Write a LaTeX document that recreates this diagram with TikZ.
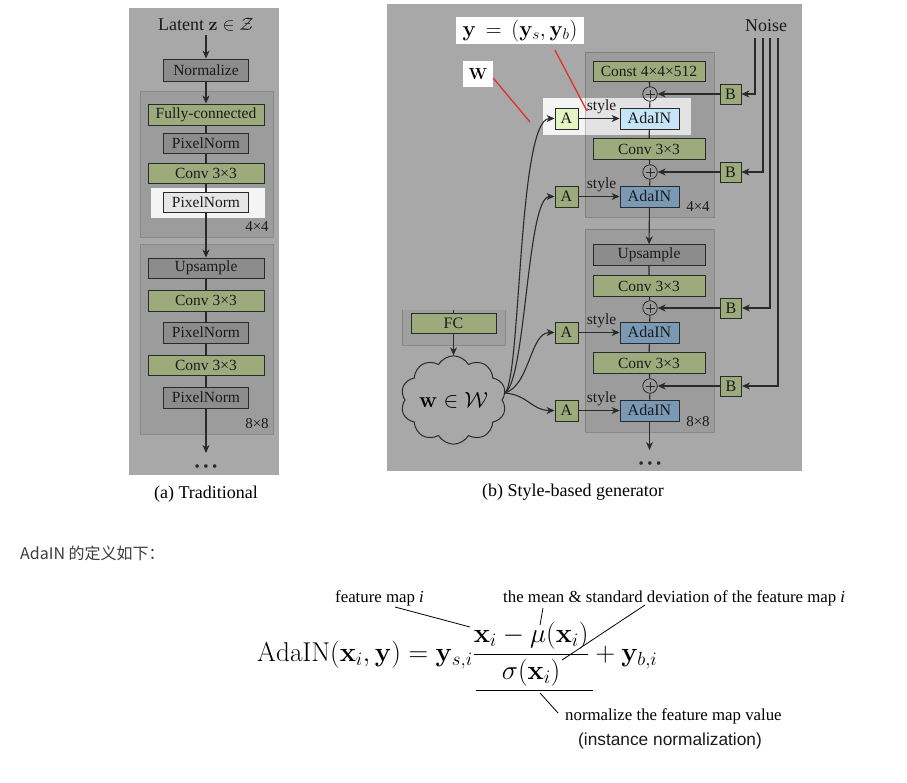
\RequirePackage{fix-cm}
\documentclass[tikz,border=0pt]{standalone}
\usepackage[no-math]{fontspec}
\setmainfont{Liberation Serif}
\newfontfamily\cjkfont{Noto Sans CJK SC}
\newfontfamily\arialfont{Liberation Sans}
\usetikzlibrary{arrows.meta,shapes.symbols,calc}
\newcommand\fsz[1]{\fontsize{#1}{#1}\selectfont}
\definecolor{panelc}{HTML}{A8A8A8}
\definecolor{framec}{HTML}{9C9C9C}
\definecolor{frameb}{HTML}{8A8A8A}
\definecolor{grnc}{HTML}{9DAA7C}
\definecolor{drkc}{HTML}{8C8C8C}
\definecolor{boxl}{HTML}{2A2A2A}
\definecolor{adal}{HTML}{C7E5F9}
\definecolor{adad}{HTML}{7A99B4}
\definecolor{alight}{HTML}{E4F4C2}
\definecolor{hlc}{HTML}{F4F4F4}
\definecolor{pnl}{HTML}{E6E6E6}
\definecolor{redc}{HTML}{E0312B}
\definecolor{txtc}{HTML}{1A1A1A}
\definecolor{cjkc}{HTML}{3C3C3C}
\tikzset{
 blk/.style={draw=boxl, line width=0.9pt, inner sep=0pt, minimum height=21pt, font=\fsz{15.5}, text=txtc},
 widebox/.style={blk, minimum width=116pt},
 narrowbox/.style={blk, minimum width=85pt},
 bwide/.style={blk, minimum width=112pt, minimum height=20.5pt},
 adabox/.style={blk, minimum width=59pt, font=\fsz{16}},
 abox/.style={blk, minimum width=23pt, font=\fsz{16}},
 bnode/.style={blk, minimum width=21pt, minimum height=20pt, font=\fsz{16}},
 greenbox/.style={fill=grnc},
 darkbox/.style={fill=drkc},
 pluscirc/.style={circle, draw=boxl, line width=0.8pt, minimum size=14.5pt, inner sep=0pt,
   path picture={\draw[boxl, line width=0.7pt]
     ([xshift=-4.5pt]path picture bounding box.center) -- ([xshift=4.5pt]path picture bounding box.center)
     ([yshift=-4.5pt]path picture bounding box.center) -- ([yshift=4.5pt]path picture bounding box.center);}},
 conn/.style={draw=boxl, line width=1.1pt},
 arr/.style={conn, -{Stealth[length=8pt,width=7pt,inset=2.5pt]}},
 lbl/.style={font=\fsz{15}, text=txtc, inner sep=0pt},
 captxt/.style={font=\fsz{18}, text=black, inner sep=0pt},
 frm/.style={fill=framec, draw=frameb, line width=0.8pt},
 frmo/.style={fill=black, fill opacity=0.065, draw=black, draw opacity=0.18, line width=0.8pt},
 hilite/.style={fill=hlc},
 redln/.style={draw=redc, line width=1.3pt},
 annot/.style={font=\fsz{16.8}, inner sep=0pt, text=black},
 annln/.style={draw=black, line width=0.8pt},
 dotsn/.style={font=\fsz{15}, text=boxl, inner sep=0pt},
}
\begin{document}
\begin{tikzpicture}[x=1pt,y=-1pt]
\useasboundingbox (0,0) rectangle (907,782);
\fill[white] (0,0) rectangle (907,782);
% ---------- panel (a)
\fill[panelc] (129,8) rectangle (279,475);
\draw[frm] (140,91) rectangle (273,237);
\draw[frm] (140,244) rectangle (273,434);
\fill[hilite] (151,188) rectangle (265,218);
\node[font=\fsz{18}, text=txtc] (lat) at (206,25) {Latent $\mathbf{z}\in\mathcal{Z}$};
\node[narrowbox, darkbox, minimum height=22pt] (norm) at (206,70) {Normalize};
\node[widebox, greenbox] (fc1) at (206,114.5) {Fully-connected};
\node[narrowbox, darkbox, minimum height=20pt] (pn1) at (206,143) {PixelNorm};
\node[widebox, greenbox, minimum height=20pt] (cv1) at (206,173) {Conv 3×3};
\node[narrowbox, fill=pnl, minimum height=20pt] (pn2) at (206,202) {PixelNorm};
\node[lbl] (s4a) at (257,227) {4×4};
\node[widebox, darkbox, minimum height=20pt] (up1) at (206,268) {Upsample};
\node[widebox, greenbox] (cv2) at (206,300.5) {Conv 3×3};
\node[narrowbox, darkbox] (pn3) at (206,332.5) {PixelNorm};
\node[widebox, greenbox, minimum height=20pt] (cv3) at (206,365) {Conv 3×3};
\node[narrowbox, darkbox] (pn4) at (206,397.5) {PixelNorm};
\node[lbl] (s8a) at (257,424) {8×8};
\coordinate (enda) at (206,453);
\node[dotsn] (dotsa) at (206,468) {\textbullet\hspace{3.5pt}\textbullet\hspace{3.5pt}\textbullet};
\node[captxt] (capa) at (206,494) {(a) Traditional};
\draw[arr] (lat) -- (norm);
\draw[arr] (norm) -- (fc1);
\draw[conn] (fc1) -- (pn1) (pn1) -- (cv1) (cv1) -- (pn2);
\draw[arr] (pn2) -- (up1);
\draw[conn] (up1) -- (cv2) (cv2) -- (pn3) (pn3) -- (cv3) (cv3) -- (pn4);
\draw[arr] (pn4) -- (enda);
% ---------- panel (b)
\fill[panelc] (387,4) rectangle (802,471);
\fill[hilite] (543,98) rectangle (691,135);
\draw[frmo] (585,52) rectangle (714,217);
\draw[frmo] (585,229) rectangle (714,432);
\fill[black, fill opacity=0.05] (402,310) rectangle (505,345);
\draw[black, draw opacity=0.18, line width=0.8pt] (402,310) |- (505,345) -- (505,310);
% labels with red lines
\node[fill=white, minimum width=128pt, minimum height=27pt, inner sep=0pt, font=\fsz{22}] (ylab) at (520,30.5) {$\mathbf{y}\,=\,(\mathbf{y}_s,\mathbf{y}_b)$};
\node[fill=white, minimum width=30pt, minimum height=26pt, inner sep=0pt, font=\fsz{16}] (wlab) at (478,74) {$\mathbf{W}$};
\coordinate (wend) at (530,122);
\coordinate (yend) at (587,111);
\draw[redln] ([yshift=-4pt]wlab.east) -- (wend);
\draw[redln] ($(ylab.south)+(35,6)$) -- (yend);
% column
\node[bwide, greenbox] (const) at (649,71.5) {Const 4×4×512};
\node[pluscirc] (p1) at (650,94) {};
\node[adabox, fill=adal] (ada1) at (649.5,118.5) {AdaIN};
\node[bwide, greenbox] (cvb1) at (649,149) {Conv 3×3};
\node[pluscirc] (p2) at (650,172) {};
\node[adabox, fill=adad] (ada2) at (649.5,196.5) {AdaIN};
\node[lbl] (s4b) at (698,207) {4×4};
\node[bwide, darkbox] (upb) at (649,255) {Upsample};
\node[bwide, greenbox] (cvb2) at (649,286) {Conv 3×3};
\node[pluscirc] (p3) at (650,308) {};
\node[adabox, fill=adad] (ada3) at (649.5,332.5) {AdaIN};
\node[bwide, greenbox] (cvb3) at (649,363) {Conv 3×3};
\node[pluscirc] (p4) at (650,386) {};
\node[adabox, fill=adad] (ada4) at (649.5,410.5) {AdaIN};
\node[lbl] (s8b) at (698,422) {8×8};
\coordinate (endb) at (649.5,450);
\node[dotsn] (dotsb) at (650,465) {\textbullet\hspace{3.5pt}\textbullet\hspace{3.5pt}\textbullet};
\node[captxt] (capb) at (573,492) {(b) Style-based generator};
\draw[conn] (const) -- (p1) (p1) -- (ada1) (ada1) -- (cvb1) (cvb1) -- (p2) (p2) -- (ada2);
\draw[arr] (ada2) -- (upb);
\draw[conn] (upb) -- (cvb2) (cvb2) -- (p3) (p3) -- (ada3) (ada3) -- (cvb3) (cvb3) -- (p4) (p4) -- (ada4);
\draw[arr] (ada4) -- (endb);
% A boxes and style
\node[abox, fill=alight] (a1) at (566.5,118.5) {A};
\node[abox, greenbox] (a2) at (566.5,196.5) {A};
\node[abox, greenbox] (a3) at (566.5,332.5) {A};
\node[abox, greenbox] (a4) at (566.5,410.5) {A};
\foreach \i in {1,2,3,4}{
  \draw[arr] (a\i) -- (ada\i);
  \node[lbl, font=\fsz{15.5}] (st\i) at ($(ada\i.west)+(-18,-12)$) {style};
}
% B boxes and noise
\node[font=\fsz{18}, text=txtc, inner sep=0pt] (noise) at (766,26) {Noise};
\node[bnode, greenbox] (b1) at (730.5,94) {B};
\node[bnode, greenbox] (b2) at (730.5,172) {B};
\node[bnode, greenbox] (b3) at (731,308) {B};
\node[bnode, greenbox] (b4) at (731,386) {B};
\coordinate (n1) at (755,38);
\coordinate (n2) at (763,38);
\coordinate (n3) at (770,38);
\coordinate (n4) at (778,38);
\foreach \i in {1,2,3,4}{
  \draw[arr] (n\i) |- (b\i);
  \draw[arr] (b\i) -- (p\i);
}
% mapping network output
\node[blk, greenbox, minimum width=85pt, minimum height=20pt, font=\fsz{16}] (fcb) at (453.5,323) {FC};
\draw[conn] (fcb.north) -- ++(0,-3);
\node[cloud, draw=boxl, line width=1pt, cloud puffs=10, cloud puff arc=120, aspect=1.3,
      minimum width=103pt, minimum height=80pt, inner sep=0pt, font=\fsz{22}] (wcl) at (453.5,400) {$\mathbf{w}\in\mathcal{W}$};
\draw[arr] (fcb) -- (wcl);
\coordinate (wout) at (505,393);
\draw[arr] (wout) .. controls (521,378) and (518,118.5) .. (a1);
\draw[arr] (wout) .. controls (526,380) and (527,196.5) .. (a2);
\draw[arr] (wout) .. controls (530,385) and (530,332.5) .. (a3);
\draw[arr] (wout) .. controls (528,395) and (532,410.5) .. (a4);
% ---------- text below
\node[anchor=west, font=\cjkfont\fsz{16}, text=cjkc, inner sep=0pt] (title) at (20,553) {AdaIN 的定义如下：};
\node[anchor=base west, font=\fsz{27.2}, inner sep=0pt] (eq) at (257,661)
  {$\displaystyle \mathrm{AdaIN}(\mathbf{x}_i,\mathbf{y})=\mathbf{y}_{s,i}\frac{\mathbf{x}_i-\mu(\mathbf{x}_i)}{\sigma(\mathbf{x}_i)}+\mathbf{y}_{b,i}$};
\node[annot, anchor=base west] (fm) at (335,602) {feature map \textit{i}};
\node[annot, anchor=base west] (mean) at (503,602) {the mean \& standard deviation of the feature map \textit{i}};
\node[annot, anchor=base west] (nfm) at (565,720) {normalize the feature map value};
\node[anchor=base, font=\arialfont\fsz{17.3}, inner sep=0pt, text=txtc] (inst) at (670,745) {(instance normalization)};
\coordinate (c1) at (470,627);
\coordinate (c2) at (540,625);
\coordinate (c3) at (562,660);
\coordinate (u1) at (476,690);
\coordinate (u2) at (593,690);
\coordinate (c5) at (540,693);
\draw[annln] ($(fm.base west)+(60,5)$) -- (c1);
\draw[annln] ($(mean.base west)+(40,6)$) -- (c2);
\draw[annln] ($(mean.base west)+(142,3)$) -- (c3);
\draw[annln] (u1) -- (u2);
\draw[annln] (c5) -- ($(nfm.base west)+(-7,-7)$);
\end{tikzpicture}
\end{document}
